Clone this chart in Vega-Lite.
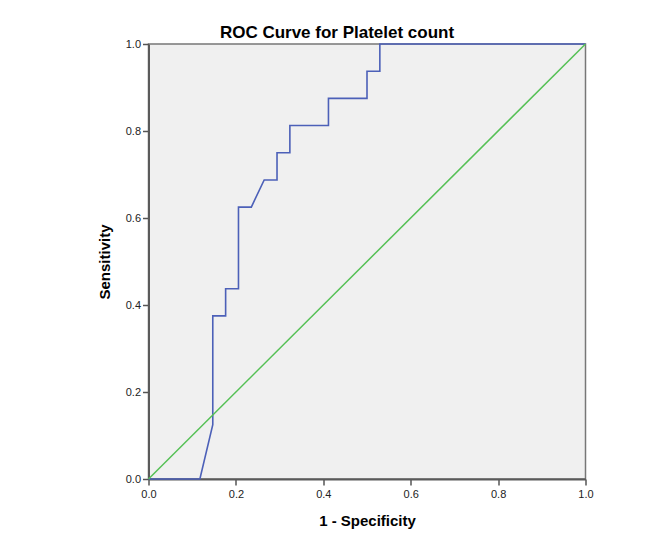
{
  "$schema": "https://vega.github.io/schema/vega-lite/v6.json",
  "autosize": {"type": "none"},
  "width": 437,
  "height": 435,
  "padding": {"left": 148.5, "top": 44, "right": 84.5, "bottom": 65},
  "background": "white",
  "title": {
    "text": "ROC Curve for Platelet count",
    "font": "Liberation Sans",
    "fontSize": 17,
    "fontWeight": "bold",
    "color": "#000000",
    "anchor": "middle",
    "dx": -30,
    "offset": -4
  },
  "config": {
    "view": {"fill": "#f0f0f0", "stroke": "#777777", "strokeWidth": 1.5},
    "axis": {
      "grid": false,
      "labelFont": "Liberation Sans",
      "labelFontSize": 11,
      "labelColor": "#222222",
      "labelFlush": false,
      "tickColor": "#555555",
      "tickSize": 6,
      "tickWidth": 1.5,
      "domainColor": "#5a5a5a",
      "domainWidth": 2,
      "titleFont": "Liberation Sans",
      "titleFontSize": 15,
      "titleFontWeight": "bold",
      "titleColor": "#000000"
    }
  },
  "layer": [
    {
      "data": {
        "values": [
          {"i": 0, "fpr": 0, "tpr": 0},
          {"i": 1, "fpr": 0.1176, "tpr": 0},
          {"i": 2, "fpr": 0.1471, "tpr": 0.125},
          {"i": 3, "fpr": 0.1471, "tpr": 0.375},
          {"i": 4, "fpr": 0.1765, "tpr": 0.375},
          {"i": 5, "fpr": 0.1765, "tpr": 0.4375},
          {"i": 6, "fpr": 0.2059, "tpr": 0.4375},
          {"i": 7, "fpr": 0.2059, "tpr": 0.625},
          {"i": 8, "fpr": 0.2353, "tpr": 0.625},
          {"i": 9, "fpr": 0.2647, "tpr": 0.6875},
          {"i": 10, "fpr": 0.2941, "tpr": 0.6875},
          {"i": 11, "fpr": 0.2941, "tpr": 0.75},
          {"i": 12, "fpr": 0.3235, "tpr": 0.75},
          {"i": 13, "fpr": 0.3235, "tpr": 0.8125},
          {"i": 14, "fpr": 0.4118, "tpr": 0.8125},
          {"i": 15, "fpr": 0.4118, "tpr": 0.875},
          {"i": 16, "fpr": 0.5, "tpr": 0.875},
          {"i": 17, "fpr": 0.5, "tpr": 0.9375},
          {"i": 18, "fpr": 0.5294, "tpr": 0.9375},
          {"i": 19, "fpr": 0.5294, "tpr": 1},
          {"i": 20, "fpr": 1, "tpr": 1}
        ]
      },
      "mark": {"type": "line", "color": "#4c60b8", "strokeWidth": 1.6},
      "encoding": {
        "x": {
          "field": "fpr", "type": "quantitative",
          "scale": {"domain": [0, 1], "nice": false, "zero": false},
          "axis": {"title": "1 - Specificity", "values": [0, 0.2, 0.4, 0.6, 0.8, 1], "format": ".1f", "labelPadding": 3, "titlePadding": 14}
        },
        "y": {
          "field": "tpr", "type": "quantitative",
          "scale": {"domain": [0, 1], "nice": false, "zero": false},
          "axis": {"title": "Sensitivity", "values": [0, 0.2, 0.4, 0.6, 0.8, 1], "format": ".1f", "labelPadding": 2, "titlePadding": 13}
        },
        "order": {"field": "i", "type": "quantitative"}
      }
    },
    {
      "data": {"values": [{"fpr": 0, "tpr": 0}, {"fpr": 1, "tpr": 1}]},
      "mark": {"type": "line", "color": "#55c055", "strokeWidth": 1.5},
      "encoding": {
        "x": {"field": "fpr", "type": "quantitative"},
        "y": {"field": "tpr", "type": "quantitative"}
      }
    }
  ]
}
